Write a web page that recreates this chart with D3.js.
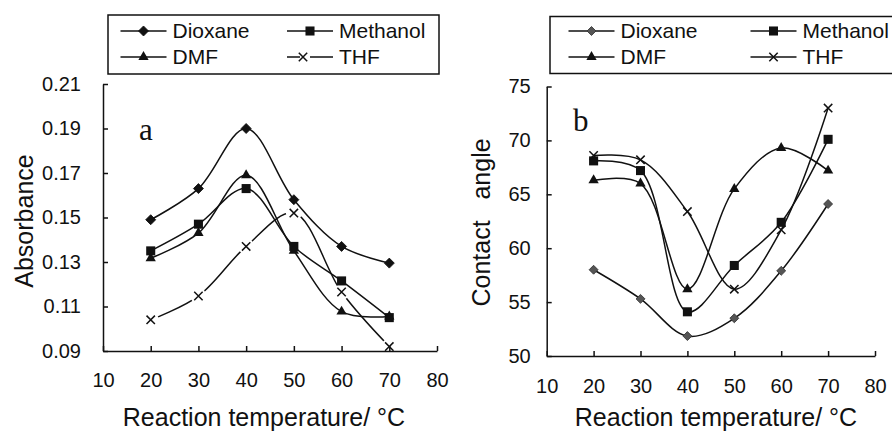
<!DOCTYPE html>
<html>
<head>
<meta charset="utf-8">
<script src="https://cdn.jsdelivr.net/npm/d3@7"></script>
<style>
  body { margin: 0; background: #fff; }
  svg { display: block; font-family: "Liberation Sans", Arial, sans-serif; }
  .tick text { font-size: 20px; fill: #111; }
  .axis path, .axis line { stroke: #111; stroke-width: 1.5; }
</style>
</head>
<body>
<div class="chart"></div>
<script>
// reaction temperatures (°C)
const temps = [20, 30, 40, 50, 60, 70];
const solvents = ["Dioxane", "Methanol", "DMF", "THF"];

// panel a: absorbance
const absDioxane = [0.149, 0.163, 0.190, 0.158, 0.137, 0.1295];
const absMethanol = [0.135, 0.147, 0.163, 0.137, 0.1215, 0.105];
const absDMF = [0.1317, 0.143, 0.169, 0.135, 0.1077, 0.1055];
const absTHF = [0.104, 0.1147, 0.137, 0.152, 0.1165, 0.092];

// panel b: contact angle
const angDioxane = [58.0, 55.3, 51.85, 53.5, 57.9, 64.1];
const angMethanol = [68.1, 67.2, 54.1, 58.4, 62.4, 70.1];
const angDMF = [66.3, 66.0, 56.2, 65.5, 69.3, 67.2];
const angTHF = [68.6, 68.2, 63.4, 56.2, 61.7, 73.0];

const xTicks = [10, 20, 30, 40, 50, 60, 70, 80];
const absTicks = [0.09, 0.11, 0.13, 0.15, 0.17, 0.19, 0.21];
const angTicks = [50, 55, 60, 65, 70, 75];

const width = 892, height = 432;
const ink = "#111";

const svg = d3.select(".chart").append("svg")
  .attr("width", width)
  .attr("height", height);

// marker shapes
function marker(sel, name, cx, cy, grey) {
  if (name === "Dioxane") {
    sel.append("path")
      .attr("d", d3.symbol(d3.symbolSquare, grey ? 40 : 50)())
      .attr("transform", `translate(${cx},${cy}) rotate(45)`)
      .attr("fill", grey ? "#555" : ink)
      .attr("stroke", grey ? "#333" : ink)
      .attr("stroke-width", 0.8);
  } else if (name === "Methanol") {
    sel.append("path")
      .attr("d", d3.symbol(d3.symbolSquare, 82)())
      .attr("transform", `translate(${cx},${cy})`)
      .attr("fill", ink);
  } else if (name === "DMF") {
    sel.append("path")
      .attr("d", d3.symbol(d3.symbolTriangle, 46)())
      .attr("transform", `translate(${cx},${cy})`)
      .attr("fill", ink);
  } else {
    const r = 4.2;
    sel.append("path")
      .attr("d", `M${-r},${-r}L${r},${r}M${-r},${r}L${r},${-r}`)
      .attr("transform", `translate(${cx},${cy})`)
      .attr("fill", "none")
      .attr("stroke", ink)
      .attr("stroke-width", 1.5);
  }
}

function panel(o) {
  const g = svg.append("g");
  const x = d3.scaleLinear().domain([10, 80]).range(o.xr);
  const y = d3.scaleLinear().domain(o.yd).range(o.yr);

  g.append("g")
    .attr("class", "axis")
    .attr("transform", `translate(0,${o.yr[0]})`)
    .call(d3.axisBottom(x).tickValues(xTicks).tickSizeInner(-5).tickSizeOuter(0).tickPadding(o.xpad));

  g.append("g")
    .attr("class", "axis")
    .attr("transform", `translate(${o.xr[0]},0)`)
    .call(d3.axisLeft(y).tickValues(o.yticks).tickFormat(o.fmt).tickSizeInner(-5).tickSizeOuter(0).tickPadding(o.ypad));

  const line = d3.line()
    .x((d, i) => x(temps[i]))
    .y(d => y(d))
    .curve(d3.curveCatmullRom);

  // gaps around THF markers (panel a only)
  if (o.gapId) {
    const m = svg.append("defs").append("mask").attr("id", o.gapId);
    m.append("rect").attr("width", width).attr("height", height).attr("fill", "#fff");
    m.selectAll("circle")
      .data(o.series[3])
      .enter()
      .append("circle")
      .attr("cx", (d, i) => x(temps[i]))
      .attr("cy", d => y(d))
      .attr("r", 8)
      .attr("fill", "#000");
  }

  o.series.forEach((vals, k) => {
    const p = g.append("path")
      .attr("d", line(vals))
      .attr("fill", "none")
      .attr("stroke", ink)
      .attr("stroke-width", 1.5);
    if (o.gapId && k === 3) p.attr("mask", `url(#${o.gapId})`);
  });

  o.series.forEach((vals, k) => {
    vals.forEach((v, i) => marker(g, solvents[k], x(temps[i]), y(v), o.grey));
  });

  // panel letter
  g.append("text")
    .attr("x", o.letter[1])
    .attr("y", o.letter[2])
    .attr("font-family", "'Liberation Serif', 'Times New Roman', serif")
    .attr("font-size", 31)
    .attr("fill", ink)
    .text(o.letter[0]);

  // axis titles
  g.append("text")
    .attr("x", o.xtitle[0])
    .attr("y", o.xtitle[1])
    .attr("text-anchor", "middle")
    .attr("font-size", 25)
    .attr("fill", ink)
    .text("Reaction temperature/ °C");

  g.append("text")
    .attr("transform", `translate(${o.ytitle[0]},${o.ytitle[1]}) rotate(-90)`)
    .attr("text-anchor", "middle")
    .attr("font-size", 25)
    .attr("fill", ink)
    .style("white-space", "pre")
    .text(o.ytitle[2]);

  // legend
  const lg = g.append("g");
  lg.append("rect")
    .attr("x", o.legend.box[0])
    .attr("y", o.legend.box[1])
    .attr("width", o.legend.box[2])
    .attr("height", o.legend.box[3])
    .attr("fill", "#fff")
    .attr("stroke", ink)
    .attr("stroke-width", 1.5);

  solvents.forEach((name, k) => {
    const cx = o.legend.cols[k % 2];
    const cy = o.legend.rows[Math.floor(k / 2)];
    const l = lg.append("line")
      .attr("x1", cx - 23).attr("x2", cx + 23)
      .attr("y1", cy).attr("y2", cy)
      .attr("stroke", ink)
      .attr("stroke-width", 1.5);
    let mx = cx;
    if (o.gapId && name === "THF") {
      l.attr("stroke-dasharray", "13,10,23");
      mx = cx - 7;
    }
    marker(lg, name, mx, cy, o.grey);
    lg.append("text")
      .attr("x", cx + 29)
      .attr("y", cy + 7)
      .attr("font-size", 21)
      .attr("fill", ink)
      .text(name);
  });
}

panel({
  xr: [103, 437],
  yd: [0.09, 0.21],
  yr: [351, 84],
  yticks: absTicks,
  fmt: d3.format(".2f"),
  xpad: 22,
  ypad: 22,
  series: [absDioxane, absMethanol, absDMF, absTHF],
  gapId: "thfGap",
  grey: false,
  letter: ["a", 139, 140],
  xtitle: [264, 426],
  ytitle: [33, 221, "Absorbance"],
  legend: { box: [108, 15, 331, 59], cols: [143.5, 310], rows: [31, 57] }
});

panel({
  xr: [546.7, 875],
  yd: [50, 75],
  yr: [356, 86.5],
  yticks: angTicks,
  fmt: d3.format("d"),
  xpad: 23,
  ypad: 16,
  series: [angDioxane, angMethanol, angDMF, angTHF],
  gapId: null,
  grey: true,
  letter: ["b", 573, 130.5],
  xtitle: [716, 426],
  ytitle: [490, 222.5, "Contact   angle"],
  legend: { box: [550, 16.5, 360, 57], cols: [591.5, 773.5], rows: [31, 57] }
});
</script>
</body>
</html>
